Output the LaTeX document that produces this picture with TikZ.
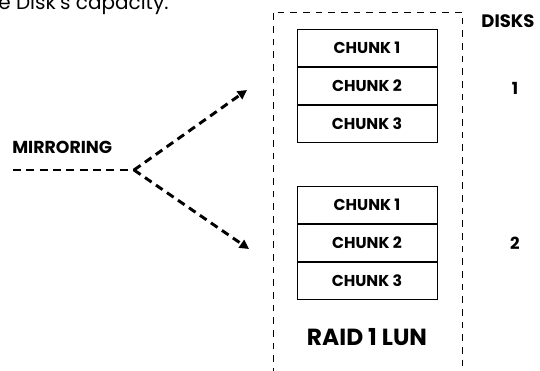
\documentclass[tikz,border=0pt]{standalone}
\usepackage{fontspec}
\setmainfont{Poppins}
\usetikzlibrary{arrows.meta, positioning}

\begin{document}
\begin{tikzpicture}[x=0.75pt, y=-0.75pt, >={Triangle[length=7pt, width=7pt]},
		chunk/.style={draw, thin, rectangle, minimum width=105pt, minimum height=28.1pt, inner sep=0pt, font=\bfseries\fontsize{11.8}{13}\selectfont},
		label/.style={font=\bfseries\fontsize{12.5}{14}\selectfont},
		mirror/.style={line width=2.2pt, dash pattern=on 6pt off 4pt},
		lun/.style={draw, thin, dash pattern=on 5pt off 4.5pt}]
		\useasboundingbox (0,0) rectangle (540,371);
		\clip (0,0) rectangle (540,371);
		\node[anchor=base west, inner sep=0pt, font=\fontsize{15}{17}\selectfont] (cap) at (-2,9) {e Disk's capacity.};
		
		% RAID 1 LUN
		\draw[lun] (273,400) -- (273,12) -- (462,12) -- (462,400);
		\node[chunk] (c11) at (367,48) {CHUNK 1};
		\node[chunk, below=0pt of c11] (c12) {CHUNK 2};
		\node[chunk, below=0pt of c12] (c13) {CHUNK 3};
		\node[chunk] (c21) at (367,204.5) {CHUNK 1};
		\node[chunk, below=0pt of c21] (c22) {CHUNK 2};
		\node[chunk, below=0pt of c22] (c23) {CHUNK 3};
		\node[font=\bfseries\fontsize{17.5}{20}\selectfont] (lun) at (367,337) {RAID 1 LUN};
		
		% disks
		\node[label, font=\bfseries\fontsize{13.5}{15}\selectfont] (disks) at (508,21) {DISKS};
		\node[label] (d1) at (515,88) {1};
		\node[label] (d2) at (515,243) {2};
		
		% mirroring
		\node[label, anchor=west, inner sep=0pt, font=\bfseries\fontsize{13}{15}\selectfont] (mir) at (12,147) {MIRRORING};
		\coordinate (m0) at (13,170);
		\coordinate (m1) at (134,170);
		\coordinate (t1) at (247,90);
		\coordinate (t2) at (249,249);
		\draw[mirror] (m0) -- (m1);
		\draw[mirror, ->] (m1) -- (t1);
		\draw[mirror, ->] (m1) -- (t2);
	\end{tikzpicture}
\end{document}
